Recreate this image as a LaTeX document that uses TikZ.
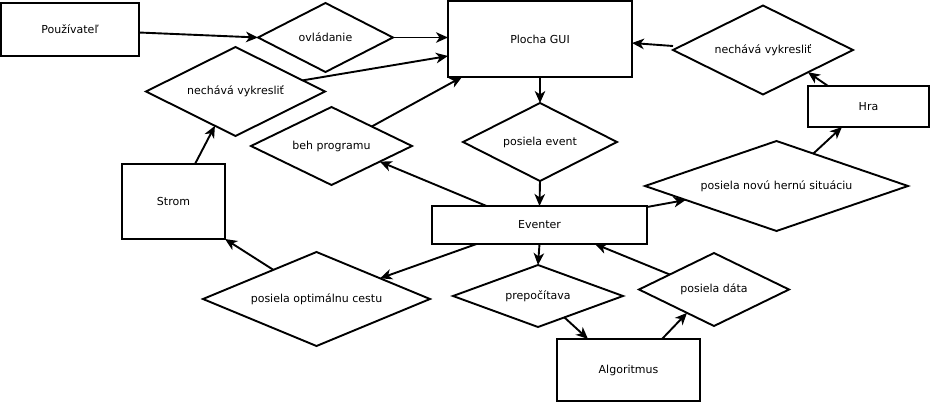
\documentclass[tikz,border=0pt]{standalone}
\usepackage{fontspec}
\setmainfont{DejaVu Sans}
\usetikzlibrary{shapes.geometric,arrows.meta,calc}
\begin{document}
\begin{tikzpicture}[x=1pt,y=-1pt,
  every node/.style={font=\fontsize{11}{13}\selectfont, line width=1.9pt, draw, inner sep=0pt, outer sep=0pt},
  box/.style={rectangle, draw},
  dia/.style={diamond, draw},
  arr/.style={draw, line width=1.9pt, -{Stealth[length=12pt,width=10.5pt,inset=3.5pt]}}]
\useasboundingbox[fill=white] (0,0) rectangle (932,402);
% boxes
\node[box, minimum width=138pt, minimum height=53pt] (user) at (70,29.5) {Používateľ};
\node[box, minimum width=184pt, minimum height=76pt] (gui) at (540,39) {Plocha GUI};
\node[box, minimum width=121pt, minimum height=41pt] (hra) at (868.5,106.5) {Hra};
\node[box, minimum width=103pt, minimum height=75pt] (strom) at (173.5,201.5) {Strom};
\node[box, minimum width=215pt, minimum height=38pt] (eventer) at (539.5,225) {Eventer};
\node[box, minimum width=143pt, minimum height=62pt] (algo) at (628.5,370) {Algoritmus};
% diamonds
\node[dia, shape aspect=1.96, minimum width=135pt, minimum height=69pt] (ovl) at (325.5,37.5) {ovládanie};
\node[dia, shape aspect=2.01, minimum width=179pt, minimum height=89pt] (nvl) at (235.5,91.5) {nechává vykresliť};
\node[dia, shape aspect=2.06, minimum width=161pt, minimum height=78pt] (beh) at (331.5,146) {beh programu};
\node[dia, shape aspect=1.97, minimum width=154pt, minimum height=78pt] (pev) at (540,142) {posiela event};
\node[dia, shape aspect=2.02, minimum width=180pt, minimum height=89pt] (nvr) at (763,50) {nechává vykresliť};
\node[dia, shape aspect=2.92, minimum width=263pt, minimum height=90pt] (pnh) at (776.5,186) {posiela novú hernú situáciu};
\node[dia, shape aspect=2.41, minimum width=227pt, minimum height=94pt] (poc) at (316.5,299) {posiela optimálnu cestu};
\node[dia, shape aspect=2.74, minimum width=170pt, minimum height=62pt] (prep) at (538,296) {prepočítava};
\node[dia, shape aspect=2.05, minimum width=150pt, minimum height=73pt] (pd) at (714,289.5) {posiela dáta};
% connectors
\draw[arr] ($(user.east)+(0,3)$) -- (ovl.west);
\draw[arr] (ovl.east) -- (ovl.east -| gui.west);
\draw[arr] ($(nvl.north)!0.75!(nvl.east)$) -- ($(gui.west)+(0,17)$);
\draw[arr] ($(beh.north)!0.5!(beh.east)$) -- ($(gui.south west)+(14,0)$);
\draw[arr] (gui.south) -- (pev.north);
\draw[arr] (pev.south) -- (eventer.north);
\draw[arr] ($(eventer.north)+(-53,0)$) -- ($(beh.east)!0.4!(beh.south)$);
\draw[arr] ($(eventer.north east)+(0,1)$) -- ($(pnh.west)!0.31!(pnh.south)$);
\draw[arr] ($(pnh.north)!0.28!(pnh.east)$) -- ($(hra.south west)+(34,0)$);
\draw[arr] ($(hra.north west)+(20,0)$) -- ($(nvr.east)!0.5!(nvr.south)$);
\draw[arr] ($(nvr.west)+(0,-4)$) -- ($(gui.east)+(0,4)$);
\draw[arr] ($(strom.north west)+(73,0)$) -- ($(nvl.west)!0.77!(nvl.south)$);
\draw[arr] ($(poc.west)!0.62!(poc.north)$) -- (strom.south east);
\draw[arr] ($(eventer.south)+(-63,0)$) -- ($(poc.north)!0.56!(poc.east)$);
\draw[arr] (eventer.south) -- (prep.north);
\draw[arr] ($(prep.east)!0.69!(prep.south)$) -- ($(algo.north west)+(31,0)$);
\draw[arr] ($(algo.north west)+(105,0)$) -- ($(pd.west)!0.64!(pd.south)$);
\draw[arr] ($(pd.west)!0.41!(pd.north)$) -- ($(eventer.south)+(55.5,0)$);
\end{tikzpicture}
\end{document}
